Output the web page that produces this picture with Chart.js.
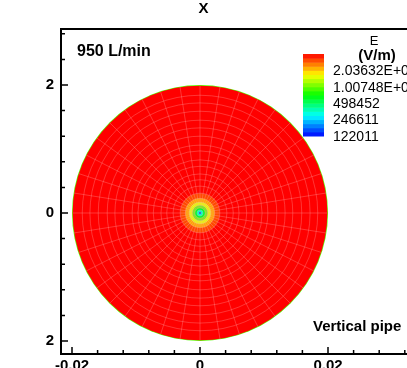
<!DOCTYPE html>
<html>
<head>
<meta charset="utf-8">
<script src="https://cdn.jsdelivr.net/npm/chart.js@4.4.1/dist/chart.umd.min.js"></script>
<style>
    html, body { margin: 0; padding: 0; background: #fff; overflow: hidden; }
    #wrap { width: 407px; height: 368px; }
</style>
</head>
<body>
<div id="wrap"><canvas id="fieldChart" width="407" height="368"></canvas></div>
<script>
// ring boundaries of the cross-section mesh (m)
const ringEdges = [0, 0.00016, 0.00047, 0.0008, 0.0012, 0.0017, 0.0023, 0.0031, 0.0042, 0.0052,
    0.0061, 0.0073, 0.0083, 0.0097, 0.0106, 0.012, 0.0133, 0.0145, 0.0159, 0.0172, 0.0184, 0.0199, 0.02];
// E in each ring (V/m)
const ringField = [125000, 350000, 594000, 941000, 1540000, 2340000, 3200000, 4050000, 4300000, 4420000,
    4500000, 4560000, 4600000, 4630000, 4650000, 4660000, 4670000, 4670000, 4660000, 4640000, 4600000, 950000];
const spokeCount = 40;

const legendValues = [2036320, 1007480, 498452, 246611, 122011];
const legendLabels = ['2.03632E+06', '1.00748E+06', '498452', '246611', '122011'];
const barMin = 122011;
const barMax = 4115900;
const barBands = 20;

const xMajorValues = [-0.02, 0, 0.02];
const xMajorLabels = ['-0.02', '0', '0.02'];
const yMajorValues = [0.02, 0, -0.02];
const yMajorLabels = ['2', '0', '2'];

const FONT = 'Liberation Sans, Arial, sans-serif';

function colorAt(t) {
    t = Math.max(0, Math.min(1, t));
    const stops = [[0, 0, 0, 255], [0.25, 0, 255, 255], [0.5, 0, 255, 0], [0.75, 255, 255, 0], [1, 255, 0, 0]];
    for (let i = 1; i < stops.length; i++) {
        if (t <= stops[i][0]) {
            const a = stops[i - 1], b = stops[i];
            const f = (t - a[0]) / (b[0] - a[0]);
            const c = [1, 2, 3].map((k) => Math.round(a[k] + (b[k] - a[k]) * f));
            return 'rgb(' + c.join(',') + ')';
        }
    }
    return 'rgb(255,0,0)';
}

function fieldColor(e) {
    return colorAt(Math.log(e / barMin) / Math.log(barMax / barMin));
}

function findLabel(values, labels, v) {
    const i = values.findIndex((m) => Math.abs(m - v) < 1e-9);
    return i >= 0 ? labels[i] : '';
}

const fieldPlugin = {
    id: 'polarField',
    beforeDatasetsDraw(chart) {
        const { ctx, chartArea } = chart;
        const xs = chart.scales.x;
        const ys = chart.scales.y;
        const cx = xs.getPixelForValue(0);
        const cy = ys.getPixelForValue(0);
        ctx.save();
        ctx.beginPath();
        ctx.rect(chartArea.left, chartArea.top, chartArea.right - chartArea.left, chartArea.bottom - chartArea.top);
        ctx.clip();

        for (let i = ringField.length - 1; i >= 0; i--) {
            const r = ringEdges[i + 1];
            ctx.beginPath();
            ctx.ellipse(cx, cy, xs.getPixelForValue(r) - cx, cy - ys.getPixelForValue(r), 0, 0, Math.PI * 2);
            ctx.fillStyle = fieldColor(ringField[i]);
            ctx.fill();
        }

        // mesh lines
        ctx.strokeStyle = 'rgba(255,160,160,0.33)';
        ctx.lineWidth = 1;
        for (let i = 1; i < ringEdges.length - 2; i++) {
            const r = ringEdges[i];
            ctx.beginPath();
            ctx.ellipse(cx, cy, xs.getPixelForValue(r) - cx, cy - ys.getPixelForValue(r), 0, 0, Math.PI * 2);
            ctx.stroke();
        }
        const r0 = ringEdges[3];
        const r1 = ringEdges[ringEdges.length - 2];
        for (let k = 0; k < spokeCount; k++) {
            const a = (k / spokeCount) * Math.PI * 2;
            ctx.beginPath();
            ctx.moveTo(xs.getPixelForValue(r0 * Math.cos(a)), ys.getPixelForValue(r0 * Math.sin(a)));
            ctx.lineTo(xs.getPixelForValue(r1 * Math.cos(a)), ys.getPixelForValue(r1 * Math.sin(a)));
            ctx.stroke();
        }
        ctx.restore();
    },
    afterDraw(chart) {
        const { ctx, chartArea } = chart;
        const xs = chart.scales.x;
        const ys = chart.scales.y;
        ctx.save();

        // frame (left, bottom, top)
        ctx.strokeStyle = '#000';
        ctx.lineWidth = 2;
        ctx.beginPath();
        ctx.moveTo(chartArea.right + 2, chartArea.top);
        ctx.lineTo(chartArea.left, chartArea.top);
        ctx.lineTo(chartArea.left, chartArea.bottom);
        ctx.lineTo(chartArea.right + 2, chartArea.bottom);
        ctx.stroke();

        // inward ticks
        ctx.lineWidth = 1.5;
        ctx.beginPath();
        xs.ticks.forEach((t) => {
            const px = xs.getPixelForValue(t.value);
            const len = findLabel(xMajorValues, xMajorLabels, t.value) ? 7 : 4;
            ctx.moveTo(px, chartArea.bottom);
            ctx.lineTo(px, chartArea.bottom - len);
        });
        ys.ticks.forEach((t) => {
            const py = ys.getPixelForValue(t.value);
            const len = findLabel(yMajorValues, yMajorLabels, t.value) ? 7 : 4;
            ctx.moveTo(chartArea.left, py);
            ctx.lineTo(chartArea.left + len, py);
        });
        ctx.stroke();

        // colour bar
        const bx = 303, bw = 21, bTop = 54, bBottom = 136;
        const bh = (bBottom - bTop) / barBands;
        for (let i = 0; i < barBands; i++) {
            ctx.fillStyle = colorAt((i + 0.5) / barBands);
            ctx.fillRect(bx, bBottom - (i + 1) * bh, bw, bh + 0.5);
        }

        ctx.fillStyle = '#000';
        ctx.textBaseline = 'middle';
        ctx.textAlign = 'left';
        ctx.font = '14px ' + FONT;
        const span = Math.log(barMax / barMin);
        legendValues.forEach((v, i) => {
            const py = bBottom - (Math.log(v / barMin) / span) * (bBottom - bTop);
            ctx.fillText(legendLabels[i], 333, py + 1);
        });

        ctx.textAlign = 'center';
        ctx.font = '13px ' + FONT;
        ctx.fillText('E', 374, 41);
        ctx.font = 'bold 15px ' + FONT;
        ctx.fillText('(V/m)', 377, 56);

        ctx.textAlign = 'left';
        ctx.font = 'bold 16px ' + FONT;
        ctx.fillText('950 L/min', 77, 52);
        ctx.font = 'bold 15px ' + FONT;
        ctx.fillText('Vertical pipe', 313, 327);
        ctx.restore();
    },
};

new Chart(document.getElementById('fieldChart'), {
    type: 'scatter',
    data: {
        datasets: [{
            label: 'E',
            data: ringField.map((e, i) => ({ x: (ringEdges[i] + ringEdges[i + 1]) / 2, y: 0 })),
            pointRadius: 0,
            showLine: false,
        }],
    },
    options: {
        responsive: false,
        animation: false,
        layout: { padding: { left: 0, right: 0, top: 0, bottom: 0 } },
        plugins: {
            legend: { display: false },
            tooltip: { enabled: false },
            title: {
                display: true,
                text: 'X',
                color: '#000',
                font: { family: FONT, size: 15, weight: 'bold', lineHeight: 1.2 },
                padding: { top: 0, bottom: 11 },
            },
        },
        scales: {
            x: {
                type: 'linear',
                min: -139 / 6400,
                max: 207 / 6400,
                grid: { display: false, drawTicks: false },
                border: { display: false },
                afterFit: (scale) => {
                    scale.height = 14;
                    scale.paddingLeft = 0;
                    scale.paddingRight = 0;
                },
                ticks: {
                    stepSize: 0.004,
                    includeBounds: false,
                    autoSkip: false,
                    maxRotation: 0,
                    padding: 3,
                    color: '#000',
                    font: { family: FONT, size: 15, weight: 'bold' },
                    callback: (v) => findLabel(xMajorValues, xMajorLabels, v),
                },
            },
            y: {
                type: 'linear',
                min: -141 / 6400,
                max: 184 / 6400,
                grid: { display: false, drawTicks: false },
                border: { display: false },
                afterFit: (scale) => {
                    scale.width = 61;
                    scale.paddingTop = 0;
                    scale.paddingBottom = 0;
                },
                ticks: {
                    stepSize: 0.004,
                    includeBounds: false,
                    autoSkip: false,
                    padding: 7,
                    color: '#000',
                    font: { family: FONT, size: 15, weight: 'bold' },
                    callback: (v) => findLabel(yMajorValues, yMajorLabels, v),
                },
            },
        },
    },
    plugins: [fieldPlugin],
});
</script>
</body>
</html>
